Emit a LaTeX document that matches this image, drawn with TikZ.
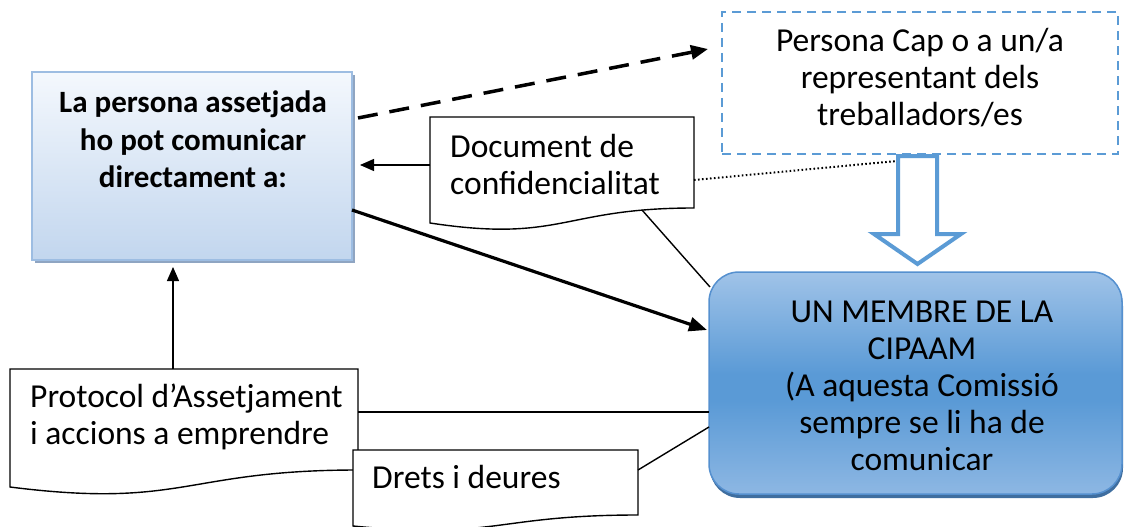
\documentclass[tikz,border=0pt]{standalone}
\usepackage{fontspec}
\setmainfont{Carlito}
\usetikzlibrary{arrows.meta,shadows}
\definecolor{leftTop}{HTML}{F4F8FD}
\definecolor{leftBot}{HTML}{C2D6EE}
\definecolor{leftBorder}{HTML}{9DBDE2}
\definecolor{leftShadow}{HTML}{8FA5C2}
\definecolor{capBlue}{HTML}{5B9BD5}
\definecolor{cipTop}{HTML}{A0C3E8}
\definecolor{cipMid}{HTML}{5A9AD6}
\definecolor{cipBot}{HTML}{8DB7E3}
\definecolor{cipBorder}{HTML}{5590CF}
\definecolor{cipShadow}{HTML}{3F6E9F}
\pgfdeclareverticalshading{cipshade}{100bp}{color(0bp)=(cipBot); color(25bp)=(cipBot); color(46bp)=(cipMid); color(52bp)=(cipMid); color(75bp)=(cipTop); color(100bp)=(cipTop)}
\begin{document}
\begin{tikzpicture}[x=1pt,y=-1pt,
  txt/.style={inner sep=0pt,font=\fontsize{33.5}{37}\selectfont},
  doc/.style={draw=black,fill=white,line width=1.4pt},
  thin/.style={draw=black,line width=1.4pt},
  tip/.style={-{Triangle[length=14pt,width=12pt]}},
  bigtip/.style={-{Triangle[length=18pt,width=14pt]}}]
\useasboundingbox (0,0) rectangle (1125,527);

% left box
\node[draw=leftBorder,line width=1.5pt,top color=leftTop,bottom color=leftBot,
  minimum width=320,minimum height=188,inner sep=0pt,
  drop shadow={shadow xshift=3pt,shadow yshift=-3pt,fill=leftShadow,opacity=1}] (pa) at (192,166) {};
\node[inner sep=0pt,font=\fontsize{31}{37}\selectfont\bfseries,text width=320,align=flush center,anchor=base] (patxt) at (193,113)
  {La persona assetjada\\ho pot comunicar\\directament a:};

% dashed box
\node[draw=capBlue,line width=2pt,dash pattern=on 9pt off 6pt,minimum width=396,minimum height=142,inner sep=0pt] (pc) at (920,83) {};
\node[txt,text width=396,align=flush center,anchor=base] (pctxt) at (920,52)
  {Persona Cap o a un/a\\representant dels\\treballadors/es};

% block arrow
\draw[capBlue,line width=4pt,fill=white,line join=miter]
  (898,156) -- (937,156) -- (937,234) -- (961,234) -- (917.5,264) -- (874,234) -- (898,234) -- cycle;
\coordinate (ba) at (897,161);

% CIPAAM box
\node[draw=cipBorder,line width=1.5pt,rounded corners=30pt,shading=cipshade,
  minimum width=413,minimum height=222,inner sep=0pt,
  drop shadow={shadow xshift=1pt,shadow yshift=-4pt,fill=cipShadow,opacity=1}] (cip) at (915.5,383) {};
\node[txt,text width=413,align=flush center,anchor=base] (ciptxt) at (922,322)
  {UN MEMBRE DE LA\\CIPAAM\\(A aquesta Comissió\\sempre se li ha de\\comunicar};

% document de confidencialitat
\draw[doc] (430,117) -- (694,117) -- (694,208) .. controls (562,208) and (562,243) .. (430,223) -- cycle;
\node[txt,text width=250,align=flush left,anchor=base west] (doctxt) at (450,157) {Document de\\confidencialitat};
\coordinate (docL) at (430,165);
\coordinate (docR) at (694,180);
\coordinate (docB) at (642,210);

% protocol
\draw[doc] (10,369) -- (358,369) -- (358,470) .. controls (184,470) and (184,509) .. (10,487) -- cycle;
\node[txt,text width=340,align=flush left,anchor=base west] (prtxt) at (30,407) {Protocol d’Assetjament\\i accions a emprendre};
\coordinate (prT) at (173,369);
\coordinate (prR) at (358,412);

% drets
\draw[doc] (353,450) -- (638,450) -- (638,515) .. controls (495,515) and (495,540) .. (353,526) -- cycle;
\node[txt,anchor=base west] (drtxt) at (372,488) {Drets i deures};
\coordinate (drR) at (638,470);

% connectors
\coordinate (dA) at (358,118);
\coordinate (dB) at (708,49);
\draw[line width=3.5pt,dash pattern=on 20pt off 12pt,-{Triangle[length=17pt,width=14pt]}] (dA) -- (dB);
\draw[thin,tip] (docL) -- (360,165);
\draw[black,line width=2pt,dash pattern=on 1.6pt off 2.4pt] (docR) -- (ba);
\draw[thin] (docB) -- (710,287);
\draw[line width=3.2pt,bigtip] (352,210) -- (707,330);
\draw[thin,tip] (prT) -- (173,267);
\draw[thin] (prR) -- (709,412);
\draw[thin] (drR) -- (709,427);
\end{tikzpicture}
\end{document}
